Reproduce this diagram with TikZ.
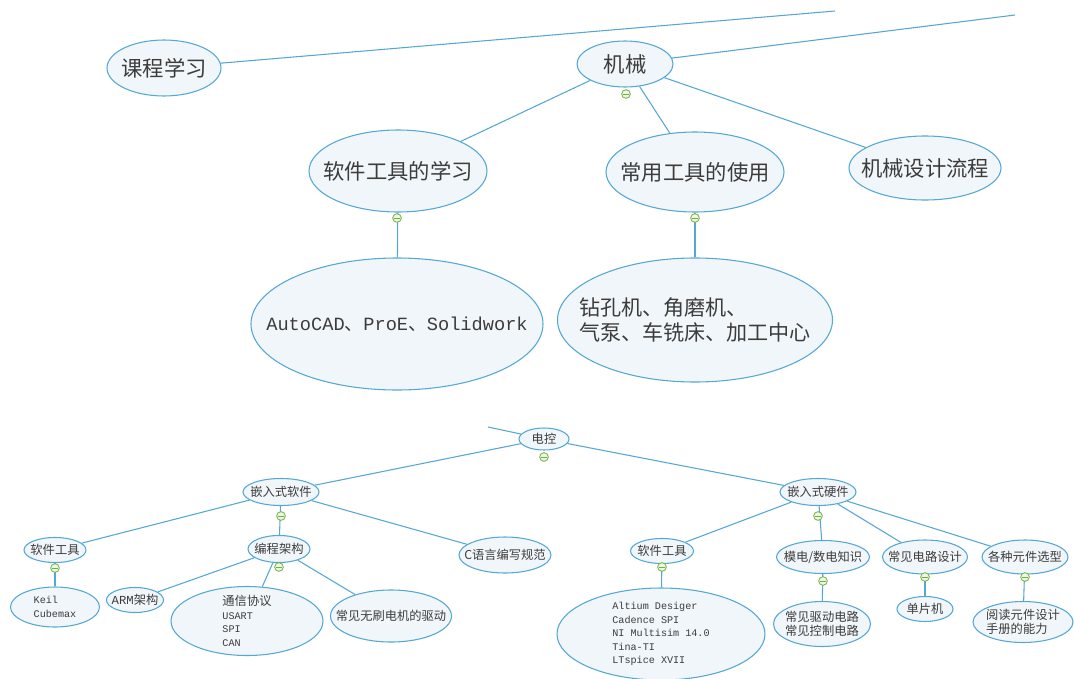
\documentclass[tikz,border=0pt]{standalone}
\usepackage{fontspec}
\setmainfont{Noto Sans CJK SC}
\newfontfamily\mono{Liberation Mono}
\usetikzlibrary{shapes.geometric}
\definecolor{edgeblue}{RGB}{85,168,212}
\definecolor{nodefill}{RGB}{241,246,250}
\definecolor{txt}{RGB}{60,60,60}
\definecolor{mgreen}{RGB}{110,178,60}
\begin{document}
\begin{tikzpicture}[x=0.75pt,y=-0.75pt,
  ell/.style={ellipse, draw=edgeblue, fill=nodefill, line width=0.8pt, inner sep=0pt},
  sz/.style 2 args={minimum width=0.75pt*#1, minimum height=0.75pt*#2},
  conn/.style={draw=edgeblue, line width=0.8pt},
  minusmark/.style={circle, draw=mgreen, fill=mgreen!12, line width=0.6pt, minimum size=6.5pt, inner sep=0pt,
    path picture={\draw[mgreen, line width=0.6pt] ([xshift=-1.9pt]path picture bounding box.center) -- ([xshift=1.9pt]path picture bounding box.center);}},
  big/.style={font=\fontsize{16}{20}\selectfont, text=txt, inner sep=0pt},
  bigm/.style={font=\fontsize{14}{18}\selectfont, text=txt, inner sep=0pt},
  small/.style={font=\fontsize{9.2}{11}\selectfont, text=txt, inner sep=0pt},
  smallm/.style={font=\mono\fontsize{7.6}{10.2}\selectfont, text=txt, inner sep=0pt},
]
\useasboundingbox (0,0) rectangle (1074,678);

% ---------- top part ----------
\node[ell, sz={114}{56}, label={[big]center:课程学习}] (kc) at (164,68) {};
\node[ell, sz={96}{46}, label={[big]center:机械}] (jx) at (625,64) {};
\node[ell, sz={178}{82}, label={[big]center:软件工具的学习}] (rj) at (398,171) {};
\node[ell, sz={178}{80}, label={[big]center:常用工具的使用}] (cy) at (695,172) {};
\node[ell, sz={152}{64}, label={[big]center:机械设计流程}] (jl) at (925,168) {};
\node[ell, sz={292}{132}, label={[bigm]center:{{\mono AutoCAD}、{\mono ProE}、{\mono Solidwork}}}] (ac) at (397,324) {};
\node[ell, sz={275}{124}, label={[big,align=left,font=\fontsize{15.8}{18.75}\selectfont]center:{钻孔机、角磨机、\\气泵、车铣床、加工中心}}] (zk) at (695,320) {};

\coordinate (e1) at (835,11);
\coordinate (e2) at (1015,15);
\draw[conn] (kc) -- (e1);
\draw[conn] (jx) -- (e2);
\draw[conn] (jx) -- (rj);
\draw[conn] (jx) -- (cy);
\draw[conn] (jx) -- (jl);
\draw[conn] (rj) -- (ac);
\draw[conn] (cy) -- (zk);

% ---------- bottom part ----------
\node[ell, sz={50}{22}, label={[small]center:电控}] (dk) at (544,439) {};
\node[ell, sz={76}{27}, label={[small]center:嵌入式软件}] (qr) at (281,492) {};
\node[ell, sz={76}{27}, label={[small]center:嵌入式硬件}] (qy) at (818,492) {};
\node[ell, sz={62}{25}, label={[small]center:软件工具}] (rl) at (55,550) {};
\node[ell, sz={62}{27}, label={[small]center:编程架构}] (bc) at (279,549) {};
\node[ell, sz={92}{36}, label={[small]center:C语言编写规范}] (cl) at (505,555) {};
\node[ell, sz={89}{40}, label={[smallm,align=left]center:{Keil\\Cubemax}}] (kl) at (55,607) {};
\node[ell, sz={57}{25}, label={[small]center:{{\mono ARM}架构}}] (arm) at (135,600) {};
\node[ell, sz={152}{69}, label={[smallm,align=left]center:{{\normalfont\fontsize{9.2}{10.2}\selectfont 通信协议}\\USART\\SPI\\CAN}}] (tx) at (247,621) {};
\node[ell, sz={121}{52}, label={[small]center:常见无刷电机的驱动}] (wd) at (391,616) {};

\node[ell, sz={63}{25}, label={[small]center:软件工具}] (rr) at (662,551) {};
\node[ell, sz={93}{33}, label={[small]center:模电/数电知识}] (md) at (823,557) {};
\node[ell, sz={85}{34}, label={[small]center:常见电路设计}] (cd) at (925,557) {};
\node[ell, sz={86}{34}, label={[small]center:各种元件选型}] (gz) at (1025,557) {};
\node[ell, sz={208}{92}, label={[smallm,align=left]center:{Altium Desiger\\Cadence SPI\\NI Multisim 14.0\\Tina-TI\\LTspice XVII}}] (al) at (661,634) {};
\node[ell, sz={97}{45}, label={[small,align=center,font=\fontsize{9.2}{10.5}\selectfont]center:{常见驱动电路\\常见控制电路}}] (cq) at (822,624) {};
\node[ell, sz={56}{25}, label={[small]center:单片机}] (dp) at (925,609) {};
\node[ell, sz={100}{41}, label={[small,align=left,font=\fontsize{9.2}{10}\selectfont]center:{阅读元件设计\\手册的能力}}] (yd) at (1023,622) {};

\coordinate (e3) at (488,427);
\draw[conn] (dk) -- (e3);
\draw[conn] (dk) -- (qr);
\draw[conn] (dk) -- (qy);
\draw[conn] (qr) -- (rl);
\draw[conn] (qr) -- (bc);
\draw[conn] (qr) -- (cl);
\draw[conn] (rl) -- (kl);
\draw[conn] (bc) -- (arm);
\draw[conn] (bc) -- (tx);
\draw[conn] (bc) -- (wd);
\draw[conn] (qy) -- (rr);
\draw[conn] (qy) -- (md);
\draw[conn] (qy) -- (cd);
\draw[conn] (qy) -- (gz);
\draw[conn] (rr) -- (al);
\draw[conn] (md) -- (cq);
\draw[conn] (cd) -- (dp);
\draw[conn] (gz) -- (yd);

% ---------- collapse markers ----------
\node[minusmark] (m1) at (626,94) {};
\node[minusmark] (m2) at (397,218) {};
\node[minusmark] (m3) at (695,218) {};
\node[minusmark] (m4) at (544,457) {};
\node[minusmark] (m5) at (281,516) {};
\node[minusmark] (m6) at (818,516) {};
\node[minusmark] (m7) at (55,568) {};
\node[minusmark] (m8) at (279,567) {};
\node[minusmark] (m9) at (662,567) {};
\node[minusmark] (m10) at (823,581) {};
\node[minusmark] (m11) at (925,577) {};
\node[minusmark] (m12) at (1025,577) {};
\end{tikzpicture}
\end{document}
